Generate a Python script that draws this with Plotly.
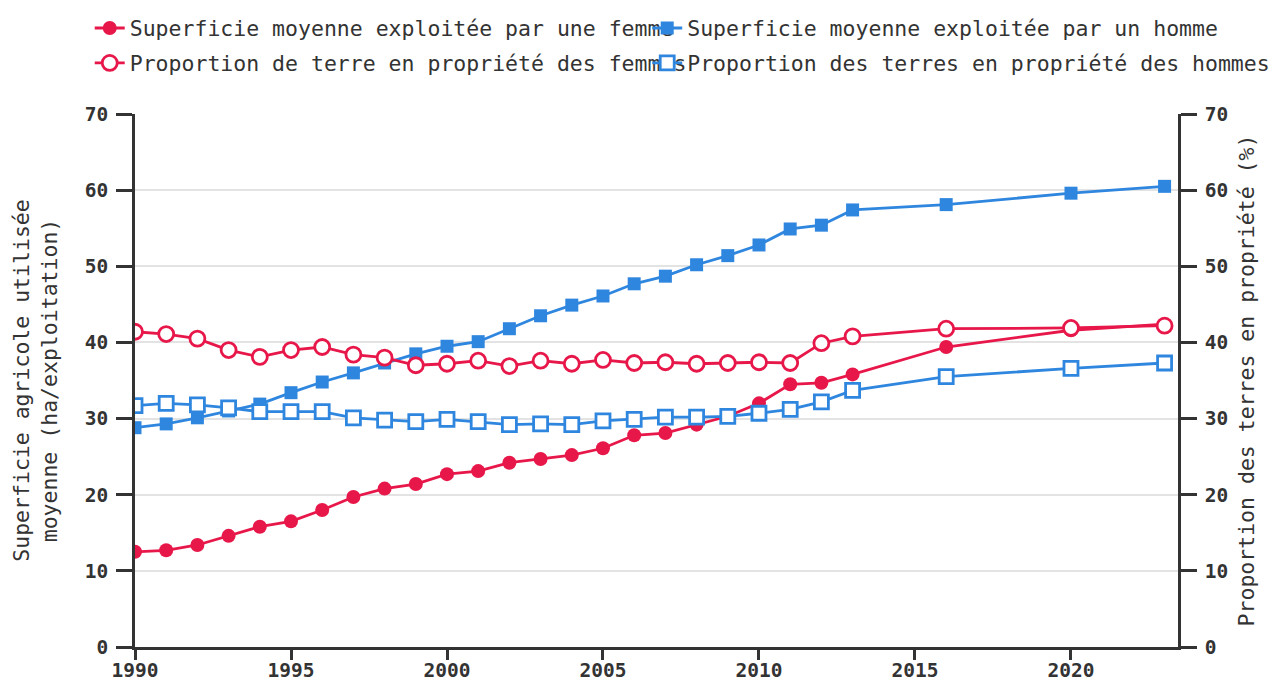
import plotly.graph_objects as go

years = [1990, 1991, 1992, 1993, 1994, 1995, 1996, 1997, 1998, 1999, 2000, 2001,
         2002, 2003, 2004, 2005, 2006, 2007, 2008, 2009, 2010, 2011, 2012, 2013,
         2016, 2020, 2023]

sau_femme = [12.5, 12.7, 13.4, 14.6, 15.8, 16.5, 18.0, 19.7, 20.8, 21.4, 22.7, 23.1,
             24.2, 24.7, 25.2, 26.1, 27.8, 28.1, 29.2, 30.3, 32.0, 34.5, 34.7, 35.8,
             39.4, 41.6, 42.4]
sau_homme = [28.8, 29.3, 30.1, 31.0, 31.9, 33.4, 34.8, 36.0, 37.3, 38.5, 39.5, 40.1,
             41.8, 43.5, 44.9, 46.1, 47.7, 48.7, 50.2, 51.4, 52.8, 54.9, 55.4, 57.4,
             58.1, 59.6, 60.5]
prop_femme = [41.4, 41.1, 40.5, 39.0, 38.1, 39.0, 39.4, 38.4, 38.0, 37.0, 37.2, 37.6,
              36.9, 37.6, 37.2, 37.7, 37.3, 37.4, 37.2, 37.3, 37.4, 37.3, 39.9, 40.8,
              41.8, 41.9, 42.2]
prop_homme = [31.7, 32.0, 31.8, 31.4, 30.9, 30.9, 30.9, 30.1, 29.8, 29.6, 29.9, 29.6,
              29.2, 29.3, 29.2, 29.7, 29.9, 30.2, 30.2, 30.3, 30.7, 31.2, 32.2, 33.7,
              35.5, 36.6, 37.3]

names = ["Superficie moyenne exploitée par une femme",
         "Superficie moyenne exploitée par un homme",
         "Proportion de terre en propriété des femmes",
         "Proportion des terres en propriété des hommes"]

RED = "#e8174a"
BLUE = "#2f86df"
FONT = "DejaVu Sans Mono"

fig = go.Figure()
fig.add_trace(go.Scatter(x=years, y=sau_femme, name=names[0], mode="lines+markers",
                         legend="legend", legendgroup="a",
                         line=dict(color=RED, width=2.8),
                         marker=dict(symbol="circle", size=14, color=RED)))
fig.add_trace(go.Scatter(x=years, y=sau_homme, name=names[1], mode="lines+markers",
                         legend="legend2", legendgroup="b",
                         line=dict(color=BLUE, width=2.8),
                         marker=dict(symbol="square", size=13, color=BLUE)))
fig.add_trace(go.Scatter(x=years, y=prop_femme, name=names[2], mode="lines+markers",
                         yaxis="y2", legend="legend", legendgroup="c",
                         line=dict(color=RED, width=2.8),
                         marker=dict(symbol="circle", size=15, color="white",
                                     line=dict(color=RED, width=2.8))))
fig.add_trace(go.Scatter(x=years, y=prop_homme, name=names[3], mode="lines+markers",
                         yaxis="y2", legend="legend2", legendgroup="d",
                         line=dict(color=BLUE, width=2.8),
                         marker=dict(symbol="square", size=14, color="white",
                                     line=dict(color=BLUE, width=2.8))))

axis_common = dict(showline=True, linecolor="#333", linewidth=2.5,
                   ticks="outside", tickwidth=2.5, tickcolor="#333",
                   tickfont=dict(family=FONT, size=19.5, color="#333", weight="bold"),
                   zeroline=False)

legend_common = dict(orientation="v", yanchor="top", y=1.1998, xanchor="left",
                     tracegroupgap=4,
                     font=dict(family=FONT, size=21.5, color="#333"),
                     bgcolor="rgba(0,0,0,0)")

fig.update_layout(
    width=1269, height=676,
    paper_bgcolor="white", plot_bgcolor="white",
    margin=dict(l=127, r=99, t=106, b=37, autoexpand=False),
    font=dict(family=FONT, color="#333"),
    xaxis=dict(range=[1990, 2023.43], tickvals=[1990, 1995, 2000, 2005, 2010, 2015, 2020],
               showgrid=False, ticklen=10, ticklabelstandoff=-6, **axis_common),
    yaxis=dict(range=[0, 70], dtick=10, showgrid=True, gridcolor="#e3e3e3", gridwidth=1.5,
               ticklen=16, ticklabelstandoff=4,
               title=dict(text="Superficie agricole utilisée<br>moyenne (ha/exploitation)",
                          font=dict(family=FONT, size=21.5, color="#333"), standoff=22),
               **axis_common),
    yaxis2=dict(range=[0, 70], dtick=10, overlaying="y", side="right", showgrid=False,
                ticklen=16, ticklabelstandoff=4,
                title=dict(text="Proportion des terres en propriété (%)",
                           font=dict(family=FONT, size=21.5, color="#333"), standoff=12),
                **axis_common),
    legend=dict(x=-0.0434, **legend_common),
    legend2=dict(x=0.4911, **legend_common),
    showlegend=True,
)

fig.write_html("out.html")
